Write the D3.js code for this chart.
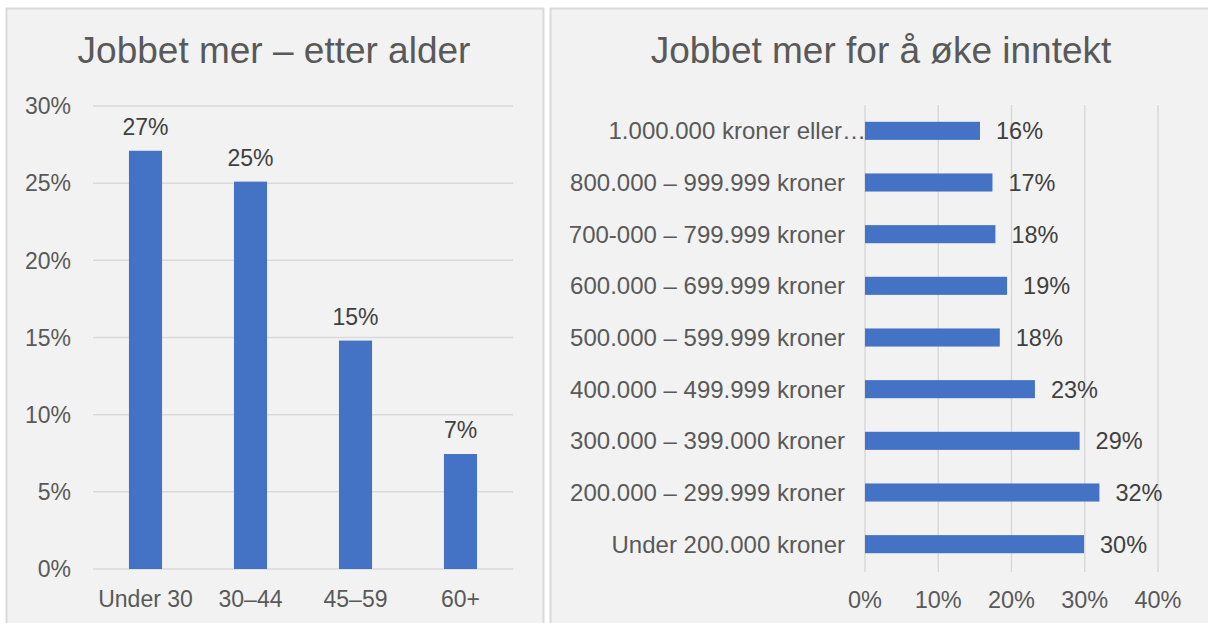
<!DOCTYPE html>
<html>
<head>
<meta charset="utf-8">
<script src="https://cdn.jsdelivr.net/npm/d3@7"></script>
<style>
  html, body { margin: 0; padding: 0; background: #ffffff; }
  svg { display: block; }
  text { font-family: "Liberation Sans", Arial, sans-serif; }
</style>
</head>
<body>
<svg id="chart" width="1208" height="623"></svg>
<script>
// ---- Data ----
const ageTitle = "Jobbet mer – etter alder";
const ageCategories = ["Under 30", "30–44", "45–59", "60+"];
const ageValues = [27.1, 25.1, 14.8, 7.45];
const ageTicks = [0, 5, 10, 15, 20, 25, 30];

const incomeTitle = "Jobbet mer for å øke inntekt";
const incomeCategories = [
  "1.000.000 kroner eller…",
  "800.000 – 999.999 kroner",
  "700-000 – 799.999 kroner",
  "600.000 – 699.999 kroner",
  "500.000 – 599.999 kroner",
  "400.000 – 499.999 kroner",
  "300.000 – 399.000 kroner",
  "200.000 – 299.999 kroner",
  "Under 200.000 kroner"
];
const incomeValues = [15.7, 17.4, 17.8, 19.4, 18.4, 23.2, 29.3, 32.0, 29.9];
const incomeTicks = [0, 10, 20, 30, 40];

// ---- Styles ----
const barColor = "#4472c4";
const gridColor = "#d9d9d9";
const panelFill = "#f2f2f2";
const titleColor = "#595959";
const axisColor = "#595959";
const labelColor = "#404040";
const fmt = v => Math.round(v) + "%";

const svg = d3.select("#chart");

// Panels
svg.append("rect").attr("x", 6.5).attr("y", 8.5).attr("width", 537).attr("height", 640)
  .attr("fill", panelFill).attr("stroke", gridColor).attr("stroke-width", 2);
svg.append("rect").attr("x", 550.5).attr("y", 8.5).attr("width", 680).attr("height", 640)
  .attr("fill", panelFill).attr("stroke", gridColor).attr("stroke-width", 2);

// ---------- Left chart ----------
const L = svg.append("g");
const xL = d3.scaleBand().domain(ageCategories).range([93, 513]).paddingInner(0.685).paddingOuter(0.3425);
const yL = d3.scaleLinear().domain([0, 30]).range([569, 106]);

L.append("text").attr("x", 274).attr("y", 63).attr("text-anchor", "middle")
  .attr("font-size", 37).attr("fill", titleColor).text(ageTitle);

L.append("g").selectAll("line").data(ageTicks).join("line")
  .attr("x1", 93).attr("x2", 513)
  .attr("y1", d => yL(d)).attr("y2", d => yL(d))
  .attr("stroke", gridColor).attr("stroke-width", 1.5);

L.append("g").selectAll("text").data(ageTicks).join("text")
  .attr("x", 71).attr("y", d => yL(d)).attr("dy", "0.36em")
  .attr("text-anchor", "end").attr("font-size", 23).attr("fill", axisColor)
  .text(d => d + "%");

L.append("g").selectAll("rect").data(ageValues).join("rect")
  .attr("x", (d, i) => xL(ageCategories[i])).attr("width", xL.bandwidth())
  .attr("y", d => yL(d)).attr("height", d => yL(0) - yL(d))
  .attr("fill", barColor);

L.append("g").selectAll("text").data(ageValues).join("text")
  .attr("x", (d, i) => xL(ageCategories[i]) + xL.bandwidth() / 2)
  .attr("y", d => yL(d) - 16).attr("text-anchor", "middle")
  .attr("font-size", 23).attr("fill", labelColor).text(d => fmt(d));

L.append("g").selectAll("text").data(ageCategories).join("text")
  .attr("x", d => xL(d) + xL.bandwidth() / 2).attr("y", 607)
  .attr("text-anchor", "middle").attr("font-size", 23).attr("fill", axisColor)
  .text(d => d);

// ---------- Right chart ----------
const R = svg.append("g");
const xR = d3.scaleLinear().domain([0, 40]).range([865, 1158]);
const yR = d3.scaleBand().domain(incomeCategories).range([105, 570]).paddingInner(0.65).paddingOuter(0.325);

R.append("text").attr("x", 881).attr("y", 63).attr("text-anchor", "middle")
  .attr("font-size", 37).attr("fill", titleColor).text(incomeTitle);

R.append("g").selectAll("line").data(incomeTicks).join("line")
  .attr("x1", d => xR(d)).attr("x2", d => xR(d))
  .attr("y1", 105).attr("y2", 572)
  .attr("stroke", gridColor).attr("stroke-width", 1.5);

R.append("g").selectAll("text").data(incomeTicks).join("text")
  .attr("x", d => xR(d)).attr("y", 608).attr("text-anchor", "middle")
  .attr("font-size", 23.5).attr("fill", axisColor).text(d => d + "%");

R.append("g").selectAll("text").data(incomeCategories).join("text")
  .attr("x", (d, i) => i === 0 ? 866 : 845)
  .attr("y", d => yR(d) + yR.bandwidth() / 2).attr("dy", "0.36em")
  .attr("text-anchor", "end").attr("font-size", 24).attr("fill", axisColor)
  .text(d => d);

R.append("g").selectAll("rect").data(incomeValues).join("rect")
  .attr("x", xR(0)).attr("width", d => xR(d) - xR(0))
  .attr("y", (d, i) => yR(incomeCategories[i])).attr("height", yR.bandwidth())
  .attr("fill", barColor);

R.append("g").selectAll("text").data(incomeValues).join("text")
  .attr("x", d => xR(d) + 16)
  .attr("y", (d, i) => yR(incomeCategories[i]) + yR.bandwidth() / 2).attr("dy", "0.36em")
  .attr("font-size", 23.5).attr("fill", labelColor).text(d => fmt(d));
</script>
</body>
</html>
